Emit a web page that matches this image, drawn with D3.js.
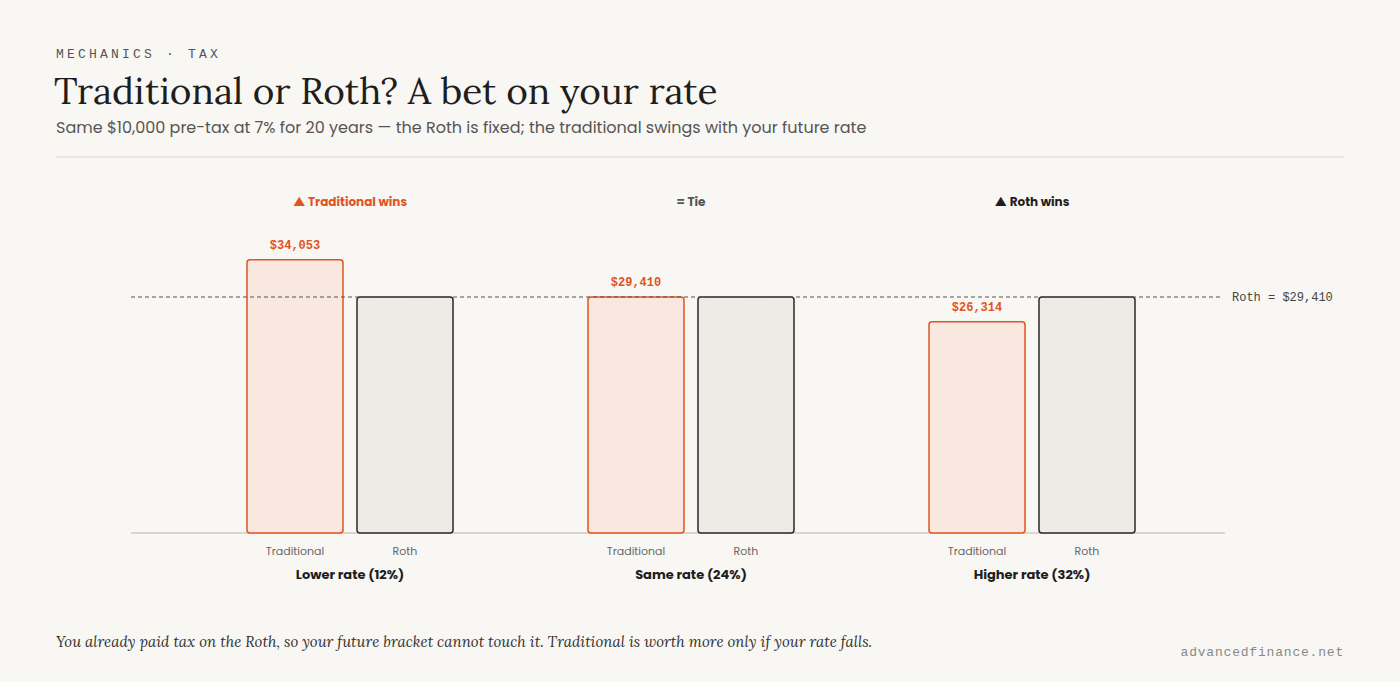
<!DOCTYPE html>
<html><head><meta charset="utf-8">
<script src="https://cdn.jsdelivr.net/npm/d3@7"></script>
<style>body{margin:0;background:#f9f7f3;}svg{display:block}</style></head>
<body><svg id="c" width="1400" height="682"></svg>
<script>
const scenarios = ["Lower rate (12%)", "Same rate (24%)", "Higher rate (32%)"];
const accounts = ["Traditional", "Roth"];
const traditionalValues = [34053, 29410, 26314];
const rothValues = [29410, 29410, 29410];
const verdicts = ["▲ Traditional wins", "= Tie", "▲ Roth wins"];
const verdictColors = ["#e0541f", "#555", "#1e1e1e"];
const rothLine = 29410;

const svg = d3.select("#c");
const sans = "Poppins, Inter, 'Open Sans', sans-serif";
const mono = "'Liberation Mono', 'DejaVu Sans Mono', monospace";
const serif = "Lora, 'DejaVu Serif', 'Liberation Serif', serif";
const orange = "#e0541f";

svg.append("text").attr("x",56).attr("y",58).text("MECHANICS · TAX")
  .attr("font-family",mono).attr("font-size",13).attr("letter-spacing",3.2).attr("fill","#555");
svg.append("text").attr("x",54).attr("y",104).text("Traditional or Roth? A bet on your rate")
  .attr("font-family",serif).attr("font-size",37).attr("fill","#1e1e1e");
svg.append("text").attr("x",56).attr("y",133).text("Same $10,000 pre-tax at 7% for 20 years — the Roth is fixed; the traditional swings with your future rate")
  .attr("font-family",sans).attr("font-size",16).attr("fill","#555");
svg.append("line").attr("x1",56).attr("x2",1344).attr("y1",157).attr("y2",157).attr("stroke","#ddd9d2");

const y = d3.scaleLinear().domain([0, 29410]).range([533, 297]);
const x0 = d3.scaleBand().domain(scenarios).range([179.5, 1202.5]);
const x1 = d3.scaleBand().domain(accounts).range([67.5, 273.5]).paddingInner(14/110);

svg.append("line").attr("x1",131).attr("x2",1225).attr("y1",y(0)).attr("y2",y(0)).attr("stroke","#cfcac2").attr("stroke-width",1.5);

scenarios.forEach((s,i)=>{
  const g = svg.append("g").attr("transform",`translate(${x0(s)},0)`);
  const vals = [traditionalValues[i], rothValues[i]];
  accounts.forEach((a,j)=>{
    const v = vals[j];
    g.append("rect").attr("x",x1(a)).attr("width",x1.bandwidth())
      .attr("y",y(v)).attr("height",y(0)-y(v)).attr("rx",3)
      .attr("fill", j===0 ? "#f9e8df" : "#eeebe7")
      .attr("stroke", j===0 ? orange : "#2a2a2a").attr("stroke-width",1.5);
    g.append("text").attr("x",x1(a)+x1.bandwidth()/2).attr("y",555).attr("text-anchor","middle")
      .text(a).attr("font-family",sans).attr("font-size",11).attr("fill","#666");
  });
  g.append("text").attr("x",x1("Traditional")+x1.bandwidth()/2).attr("y",y(traditionalValues[i])-11)
    .attr("text-anchor","middle").text("$"+d3.format(",")(traditionalValues[i]))
    .attr("font-family",mono).attr("font-size",12).attr("font-weight","bold").attr("fill",orange);
  g.append("text").attr("x",x0.bandwidth()/2).attr("y",579).attr("text-anchor","middle")
    .text(s).attr("font-family",sans).attr("font-size",13).attr("font-weight","bold").attr("fill","#1e1e1e");
  g.append("text").attr("x",x0.bandwidth()/2).attr("y",206).attr("text-anchor","middle")
    .text(verdicts[i]).attr("font-family",sans).attr("font-size",12).attr("font-weight","bold").attr("fill",verdictColors[i]);
});

svg.append("line").attr("x1",131).attr("x2",1222).attr("y1",y(rothLine)).attr("y2",y(rothLine))
  .attr("stroke","#555").attr("stroke-dasharray","4,3").attr("stroke-width",1.2);
svg.append("text").attr("x",1232).attr("y",y(rothLine)+4).text("Roth = $"+d3.format(",")(rothLine))
  .attr("font-family",mono).attr("font-size",12).attr("fill","#444");

svg.append("text").attr("x",56).attr("y",647).text("You already paid tax on the Roth, so your future bracket cannot touch it. Traditional is worth more only if your rate falls.")
  .attr("font-family",serif).attr("font-style","italic").attr("font-size",15).attr("fill","#333");
svg.append("text").attr("x",1344).attr("y",656).attr("text-anchor","end").text("advancedfinance.net")
  .attr("font-family",mono).attr("font-size",13).attr("letter-spacing",0.8).attr("fill","#888");
</script></body></html>
